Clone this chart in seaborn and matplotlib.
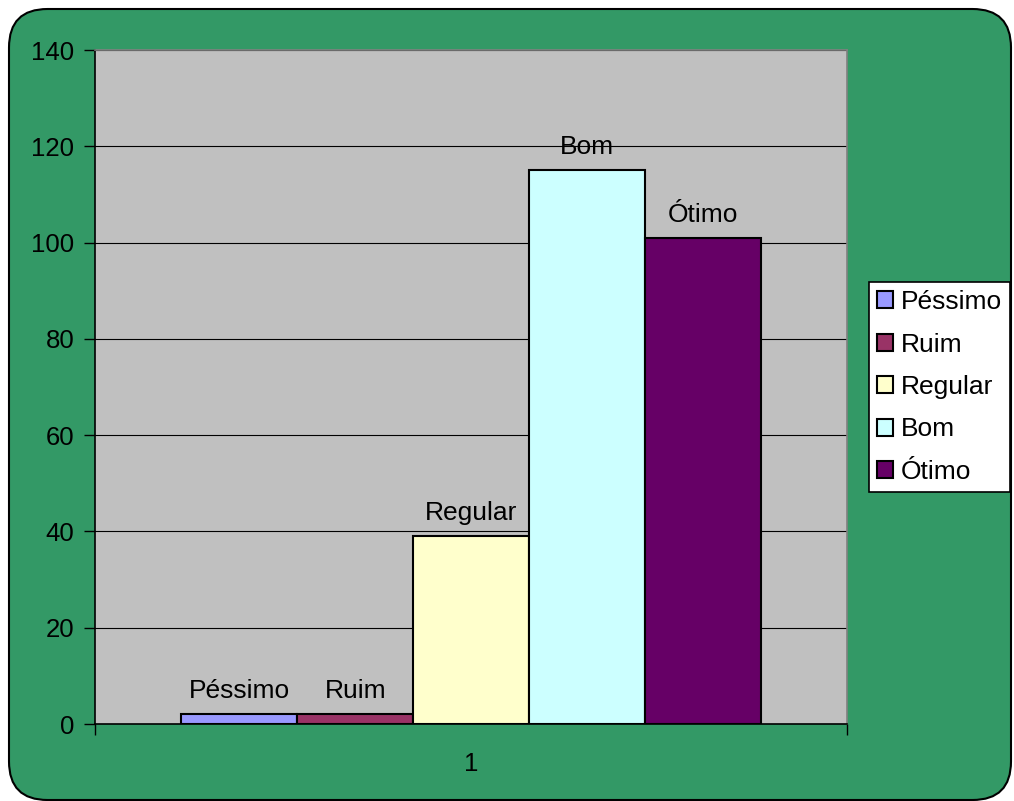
import pandas as pd
import matplotlib.pyplot as plt
import seaborn as sns
from matplotlib.patches import FancyBboxPatch

categorias = ['Péssimo', 'Ruim', 'Regular', 'Bom', 'Ótimo']
valores = [2, 2, 39, 115, 101]
grupo = ['1'] * len(categorias)
cores = ['#9999FF', '#993366', '#FFFFCC', '#CCFFFF', '#660066']
yticks = [0, 20, 40, 60, 80, 100, 120, 140]


def main():
    sns.set_style('white')
    plt.rcParams['font.family'] = ['Liberation Sans', 'DejaVu Sans']
    plt.rcParams['text.color'] = 'black'
    plt.rcParams['xtick.color'] = 'black'
    plt.rcParams['ytick.color'] = 'black'
    df = pd.DataFrame({'grupo': grupo, 'categoria': categorias, 'valor': valores})

    fig = plt.figure(figsize=(10.14, 8.01), dpi=100)
    fig.patch.set_facecolor('white')
    # fundo verde arredondado
    fundo = FancyBboxPatch((9 / 1014, 1 / 801), 1002 / 1014, 791 / 801,
                           boxstyle='round,pad=0,rounding_size=0.038',
                           transform=fig.transFigure, facecolor='#339966',
                           edgecolor='black', linewidth=1.5, zorder=-5,
                           mutation_aspect=1014 / 801)
    fig.patches.append(fundo)

    ax = fig.add_axes([95 / 1014, 1 - 724 / 801, 752 / 1014, 674 / 801])
    ax.set_zorder(1)
    ax.set_facecolor('#C0C0C0')
    sns.barplot(data=df, x='grupo', y='valor', hue='categoria', palette=cores,
                hue_order=categorias, width=0.77, edgecolor='black',
                linewidth=1.5, saturation=1, ax=ax, zorder=3)

    for cont, nome in zip(ax.containers, categorias):
        ax.bar_label(cont, labels=[nome], padding=8, fontsize=19, color='black')

    ax.set_xlim(-0.5, 0.5)
    ax.set_ylim(0, 140)
    ax.set_yticks(yticks)
    ax.yaxis.grid(True, color='black', linewidth=0.8, zorder=0)
    ax.set_axisbelow(True)
    ax.set_xlabel('')
    ax.set_ylabel('')
    ax.tick_params(axis='y', labelsize=18.5, length=8, width=1, direction='out',
                   left=True, pad=7, color='black', labelcolor='black')
    ax.tick_params(axis='x', labelsize=18.5, length=0, pad=20, labelcolor='black')
    ax.set_xticks([-0.5, 0.5], minor=True)
    ax.tick_params(axis='x', which='minor', length=8, width=1, bottom=True,
                   direction='out', color='black')
    for lado in ['left', 'bottom']:
        ax.spines[lado].set_color('black')
        ax.spines[lado].set_linewidth(1.2)
    for lado in ['top', 'right']:
        ax.spines[lado].set_color('#808080')
        ax.spines[lado].set_linewidth(1.2)

    leg = ax.legend(loc='center left', bbox_to_anchor=(869 / 1014, 1 - 387 / 801),
                    bbox_transform=fig.transFigure, fontsize=19, frameon=True,
                    fancybox=False, edgecolor='black', framealpha=1,
                    handlelength=0.62, handleheight=0.62, handletextpad=0.28,
                    labelspacing=0.7, borderpad=0.3, borderaxespad=0)
    leg.get_frame().set_linewidth(1.2)
    for t in leg.get_texts():
        t.set_color('black')

    plt.savefig('out.png', dpi=100)
    plt.close('all')


if __name__ == '__main__':
    main()
